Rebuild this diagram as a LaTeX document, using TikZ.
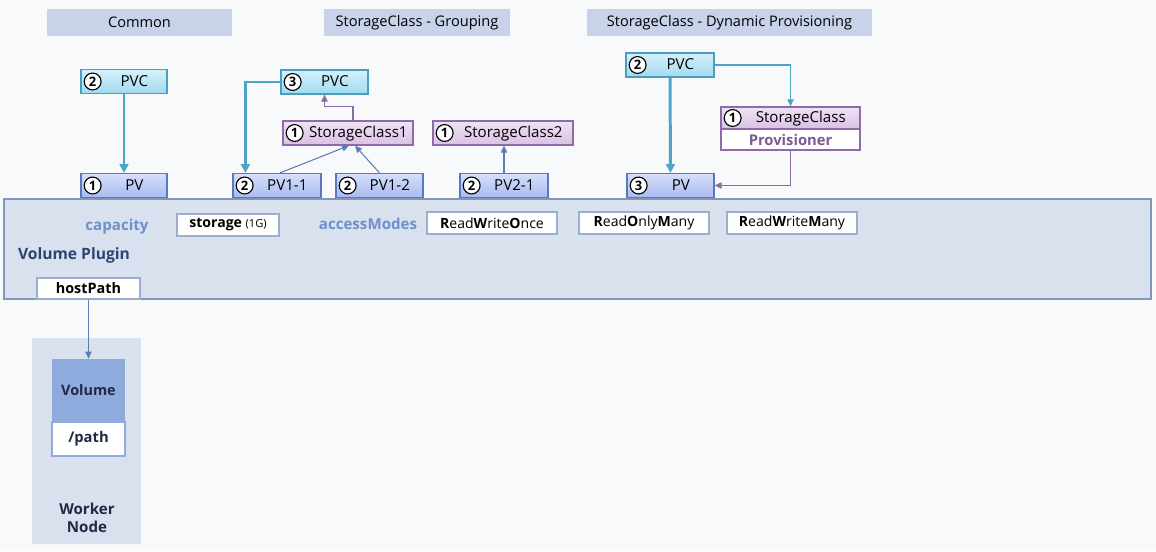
\documentclass[tikz,border=0pt]{standalone}
\usepackage{fontspec}
\setmainfont{Open Sans}
\usepackage{tikz}
\usetikzlibrary{arrows.meta}
\definecolor{bgGrey}{HTML}{F8F9FB}
\definecolor{titleBlue}{HTML}{C8D3E9}
\definecolor{panelBlue}{HTML}{D9E0EE}
\definecolor{panelEdge}{HTML}{8298BA}
\definecolor{pvcTop}{HTML}{D4F1FB}
\definecolor{pvcBot}{HTML}{A2DAEF}
\definecolor{pvcEdge}{HTML}{4A9FBF}
\definecolor{pvTop}{HTML}{D6DFFB}
\definecolor{pvBot}{HTML}{A8BAF0}
\definecolor{pvEdge}{HTML}{5A78C0}
\definecolor{scTop}{HTML}{F0E2F4}
\definecolor{scBot}{HTML}{D9C0E3}
\definecolor{scEdge}{HTML}{8E6BA8}
\definecolor{modeEdge}{HTML}{9AAED0}
\definecolor{fatTeal}{HTML}{4CA5C4}
\definecolor{lineBlue}{HTML}{5C7DB8}
\definecolor{linePurple}{HTML}{8A6AA0}
\definecolor{capBlue}{HTML}{6E90CB}
\definecolor{plugBlue}{HTML}{2D4473}
\definecolor{provPurple}{HTML}{7A5C92}
\definecolor{volBlue}{HTML}{8FAADC}
\definecolor{darkText}{HTML}{1F2A44}

\tikzset{
  numcirc/.style={circle, draw=black, fill=white, text=black, line width=0.65pt,
    minimum size=9.6pt, inner sep=0pt, anchor=center, font=\bfseries\fontsize{7.4}{8}\selectfont},
  objbox/.style={draw, line width=0.7pt, minimum height=0.48cm, inner xsep=0pt, inner ysep=0pt,
    font=\fontsize{8.6}{10}\selectfont},
  pvcbox/.style={objbox, draw=pvcEdge, top color=pvcTop, bottom color=pvcBot},
  pvbox/.style={objbox, draw=pvEdge, top color=pvTop, bottom color=pvBot},
  scbox/.style={objbox, draw=scEdge, top color=scTop, bottom color=scBot},
  titlebar/.style={fill=titleBlue, minimum height=0.54cm, font=\fontsize{8.3}{10}\selectfont},
  modebox/.style={draw=modeEdge, fill=white, line width=0.6pt, minimum height=0.44cm,
    inner sep=0pt, font=\fontsize{8}{9}\selectfont},
  fat/.style={draw=fatTeal, line width=1.7pt, -{Triangle[length=5pt,width=5pt]}},
  thinteal/.style={draw=fatTeal, line width=0.6pt, -{Triangle[length=4pt,width=3.6pt]}},
  thinblue/.style={draw=lineBlue, line width=0.6pt, -{Triangle[length=4pt,width=3.6pt]}},
  thinpurple/.style={draw=linePurple, line width=0.6pt, -{Triangle[length=4pt,width=3.6pt]}}
}
\newcommand{\cnum}[1]{\tikz[baseline=(cn.base)]\node[numcirc](cn){#1};}
\newcommand{\boxtext}[3]{\makebox[#1]{\hspace{1.5pt}\cnum{#2}\hfill#3\hfill}}

\begin{document}
\begin{tikzpicture}[x=0.02cm, y=-0.02cm]
  \fill[bgGrey] (0,0) rectangle (1156,551);
  \useasboundingbox (0,0) rectangle (1156,551);

  % titles
  \node[titlebar, minimum width=3.7cm] (tCommon) at (139.5,22.5) {Common};
  \node[titlebar, minimum width=3.72cm] (tGroup) at (417,22.5) {StorageClass - Grouping};
  \node[titlebar, minimum width=5.7cm] (tDynamic) at (729.5,22.5) {StorageClass - Dynamic Provisioning};

  % volume plugin panel
  \node[draw=panelEdge, fill=panelBlue, line width=0.8pt, minimum width=22.94cm, minimum height=2cm]
    (plugin) at (577.5,249) {};
  \node[text=capBlue, font=\bfseries\fontsize{8.6}{10}\selectfont] (capacity) at (117,227) {capacity};
  \node[modebox, minimum width=2.04cm] (storage) at (228,225)
    {\textbf{storage} {\fontsize{6.3}{7}\selectfont (1G)}};
  \node[text=capBlue, font=\bfseries\fontsize{8.6}{10}\selectfont] (access) at (368,224) {accessModes};
  \node[modebox, minimum width=2.6cm] (rwo) at (492,223) {\textbf{R}ead\textbf{W}rite\textbf{O}nce};
  \node[modebox, minimum width=2.6cm] (rom) at (644,223) {\textbf{R}ead\textbf{O}nly\textbf{M}any};
  \node[modebox, minimum width=2.6cm] (rwm) at (792,223) {\textbf{R}ead\textbf{W}rite\textbf{M}any};
  \node[text=plugBlue, font=\bfseries\fontsize{8.9}{10}\selectfont] (plugtitle) at (74,255) {Volume Plugin};
  \node[modebox, minimum width=2.06cm, minimum height=0.42cm, font=\bfseries\fontsize{8.2}{9}\selectfont]
    (hostpath) at (88.5,288.5) {hostPath};

  % common
  \node[pvcbox] (pvcA) at (124,81.5) {\boxtext{1.72cm}{2}{PVC}};
  \node[pvbox] (pvA) at (124,185.5) {\boxtext{1.72cm}{1}{PV}};

  % grouping
  \node[pvcbox] (pvcB) at (324.5,82) {\boxtext{1.74cm}{3}{PVC}};
  \node[scbox] (scB1) at (348,133) {\boxtext{2.6cm}{1}{StorageClass1}};
  \node[scbox] (scB2) at (503,133) {\boxtext{2.8cm}{1}{StorageClass2}};
  \node[pvbox] (pvB1) at (277,185.5) {\boxtext{1.76cm}{2}{PV1-1}};
  \node[pvbox] (pvB2) at (379.5,185.5) {\boxtext{1.74cm}{2}{PV1-2}};
  \node[pvbox] (pvB3) at (504,185.5) {\boxtext{1.76cm}{2}{PV2-1}};

  % dynamic provisioning
  \node[pvcbox] (pvcC) at (670,65) {\boxtext{1.76cm}{2}{PVC}};
  \node[scbox, minimum height=0.44cm] (scC) at (790.5,118) {\boxtext{2.78cm}{1}{StorageClass}};
  \node[draw=scEdge, fill=white, line width=0.7pt, minimum width=2.78cm, minimum height=0.42cm,
    inner sep=0pt, text=provPurple, font=\bfseries\fontsize{8.4}{10}\selectfont] (provC) at (790.5,139.5) {Provisioner};
  \node[pvbox] (pvC) at (670.5,185.5) {\boxtext{1.74cm}{3}{PV}};

  % worker node
  \node[fill=panelBlue, minimum width=2.18cm, minimum height=4.14cm] (worker) at (86.5,441) {};
  \node[fill=volBlue, minimum width=1.46cm, minimum height=1.26cm, text=darkText,
    font=\bfseries\fontsize{8.2}{10}\selectfont] (vol) at (88.5,390.5) {Volume};
  \node[draw=volBlue, fill=white, line width=0.6pt, minimum width=1.46cm, minimum height=0.68cm, text=darkText,
    font=\bfseries\fontsize{8.4}{10}\selectfont] (path) at (88.5,439) {/path};
  \node[align=center, text=darkText, font=\bfseries\fontsize{8.6}{10}\selectfont] (workertext) at (87,518) {Worker\\Node};

  % connectors
  \draw[fat] (pvcA) -- (pvA);
  \draw[fat] (pvcB.west) -| ([xshift=0.26cm]pvB1.north west);
  \draw[thinpurple] ([xshift=0.1cm]scB1.north) -- ++(0,-14) -| (pvcB.south);
  \draw[thinblue] ([xshift=0.06cm]pvB1.north) -- ([xshift=0.02cm]scB1.south);
  \draw[thinblue] (pvB2.north) -- ([xshift=0.14cm]scB1.south);
  \draw[thinblue] (pvB3.north) -- (pvB3.north |- scB2.south);
  \draw[fat] (pvcC) -- (pvC);
  \draw[thinteal] (pvcC.east) -| (scC.north);
  \draw[thinpurple] (provC.south) |- (pvC.east);
  \draw[thinblue] (hostpath.south) -- (vol.north);
\end{tikzpicture}
\end{document}
